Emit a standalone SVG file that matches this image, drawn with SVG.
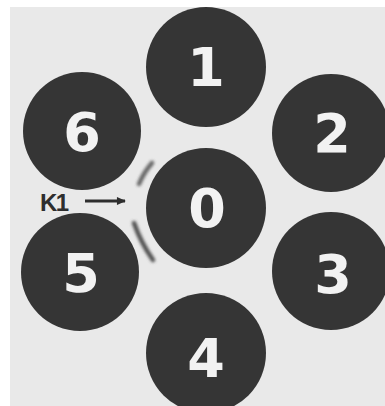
<svg xmlns="http://www.w3.org/2000/svg" width="385" height="406" viewBox="0 0 385 406">
<defs>
<style>
.disc{fill:#353535}
.num{fill:#f2f2f2;font-family:"DejaVu Sans",sans-serif;font-weight:bold;font-size:54px;text-anchor:middle}
.lbl{fill:#2e2e2e;font-family:"Liberation Sans",Arial,sans-serif;font-weight:bold;font-size:24px;letter-spacing:-1.5px}
.smudge{fill:none;stroke:#505050;stroke-width:4.5;stroke-linecap:round;filter:url(#blur)}
</style>
<filter id="blur" x="-50%" y="-50%" width="200%" height="200%"><feGaussianBlur stdDeviation="1.5"/></filter>
<marker id="ah" viewBox="0 0 10 10" refX="9" refY="5" markerWidth="3.6" markerHeight="3.2" orient="auto" markerUnits="strokeWidth"><path d="M0,0.5 L10,5 L0,9.5 Z" fill="#2e2e2e"/></marker>
</defs>
<rect x="0" y="0" width="385" height="406" fill="#ffffff"/>
<rect x="10" y="7" width="375" height="399" fill="#e9e9e9"/>
<g id="smudges">
<path class="smudge" d="M152,163 Q144,172 139,184" opacity="0.85"/>
<path class="smudge" d="M134,223 Q141,243 153,260"/>
</g>
<g id="node-1"><circle class="disc" cx="206" cy="67" r="60"/><text class="num" x="206" y="86">1</text></g>
<g id="node-6"><circle class="disc" cx="82" cy="131" r="59"/><text class="num" x="82" y="151">6</text></g>
<g id="node-2"><circle class="disc" cx="331" cy="133" r="59"/><text class="num" x="332" y="152">2</text></g>
<g id="node-0"><circle class="disc" cx="206" cy="208" r="60"/><text class="num" x="207" y="227">0</text></g>
<g id="node-5"><circle class="disc" cx="80" cy="272" r="59"/><text class="num" x="81" y="292">5</text></g>
<g id="node-3"><circle class="disc" cx="331" cy="271" r="59"/><text class="num" x="333" y="293">3</text></g>
<g id="node-4"><circle class="disc" cx="206" cy="353" r="60"/><text class="num" x="206" y="377">4</text></g>
<g id="label-K1"><text class="lbl" x="40" y="211">K1</text></g>
<g id="connectors">
<line x1="85" y1="201" x2="125" y2="201" stroke="#2e2e2e" stroke-width="2.8" marker-end="url(#ah)"/>
</g>
</svg>
